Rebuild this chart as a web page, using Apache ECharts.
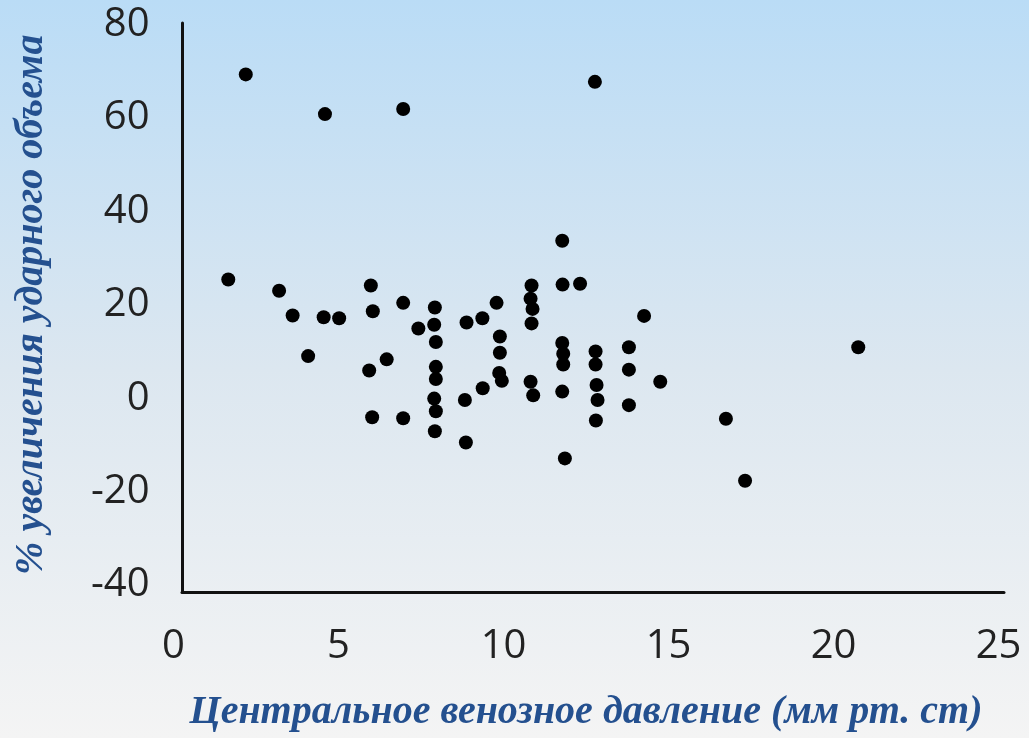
<!DOCTYPE html>
<html>
<head>
<meta charset="utf-8">
<script src="https://cdn.jsdelivr.net/npm/echarts@6/dist/echarts.min.js"></script>
<style>
html,body{margin:0;padding:0;}
#c{width:1029px;height:738px;}
</style>
</head>
<body>
<div id="c"></div>
<script>
// Central venous pressure (mm Hg)
const cvp = [2.19,4.59,6.96,12.77,11.78,1.66,3.20,3.61,4.55,5.02,4.08,5.98,6.04,6.96,7.42,7.92,7.90,7.95,7.95,7.95,7.90,7.95,7.92,6.46,5.93,6.02,6.96,8.88,9.36,9.79,9.89,9.89,9.87,9.95,9.37,8.83,8.86,10.85,10.82,10.88,10.85,10.82,10.90,11.79,12.32,11.78,11.81,11.81,11.78,11.86,12.79,12.79,12.82,12.85,12.80,13.80,13.80,13.80,14.26,14.75,16.74,17.32,20.75];
// % increase of stroke volume
const svIncrease = [69.3,60.8,61.9,67.7,33.7,25.4,23.0,17.7,17.3,17.1,9.0,24.1,18.6,20.4,14.9,19.4,15.7,12.0,6.7,4.1,-0.1,-2.8,-7.1,8.3,5.9,-4.1,-4.3,16.2,17.1,20.4,13.2,9.7,5.4,3.7,2.1,-0.4,-9.5,24.1,21.3,19.1,16.0,3.5,0.6,24.3,24.5,11.8,9.5,7.2,1.4,-12.9,10.0,7.2,2.8,-0.4,-4.8,10.9,6.1,-1.5,17.6,3.5,-4.4,-17.7,10.9];
const xTicks = [0,5,10,15,20,25];
const yTicks = [-40,-20,0,20,40,60,80];
const xTitle = 'Центральное венозное давление (мм рт. ст)';
const yTitle = '% увеличения ударного объема';

const points = cvp.map((v,i)=>[v, svIncrease[i]]);
const chart = echarts.init(document.getElementById('c'), null, {renderer:'canvas'});
const titleFont = {fontFamily:'Liberation Serif', fontStyle:'italic', fontWeight:'bold', fontSize:40, color:'#24508f'};
const tickFont = {fontFamily:'Open Sans', fontSize:40, color:'#222'};
chart.setOption({
  animation:false,
  backgroundColor:{type:'linear',x:0,y:0,x2:0,y2:1,colorStops:[
    {offset:0,color:'#badcf6'},{offset:0.5,color:'#dce7f0'},{offset:1,color:'#f4f4f4'}]},
  grid:[
    {left:173.5,right:30.5,top:24.4,bottom:146.7},
    {left:182,right:25,top:23,bottom:146}
  ],
  xAxis:[
    {gridIndex:0,type:'value',min:xTicks[0],max:xTicks[xTicks.length-1],interval:5,
     axisLine:{show:false},axisTick:{show:false},splitLine:{show:false},
     axisLabel:Object.assign({margin:42},tickFont),
     name:xTitle,nameLocation:'middle',nameGap:108,nameTextStyle:titleFont},
    {gridIndex:1,type:'value',min:0,max:1,axisLine:{show:true,onZero:false,lineStyle:{color:'#111',width:3}},
     axisTick:{show:false},axisLabel:{show:false},splitLine:{show:false}}
  ],
  yAxis:[
    {gridIndex:0,type:'value',min:yTicks[0],max:yTicks[yTicks.length-1],interval:20,
     axisLine:{show:false},axisTick:{show:false},splitLine:{show:false},
     axisLabel:Object.assign({margin:24},tickFont),
     name:yTitle,nameLocation:'middle',nameGap:122,nameRotate:90,nameTextStyle:titleFont},
    {gridIndex:1,type:'value',min:0,max:1,axisLine:{show:true,onZero:false,lineStyle:{color:'#111',width:3}},
     axisTick:{show:false},axisLabel:{show:false},splitLine:{show:false}}
  ],
  series:[{type:'scatter',xAxisIndex:0,yAxisIndex:0,data:points,symbolSize:14,
    itemStyle:{color:'#000',opacity:1}}]
});
</script>
</body>
</html>
